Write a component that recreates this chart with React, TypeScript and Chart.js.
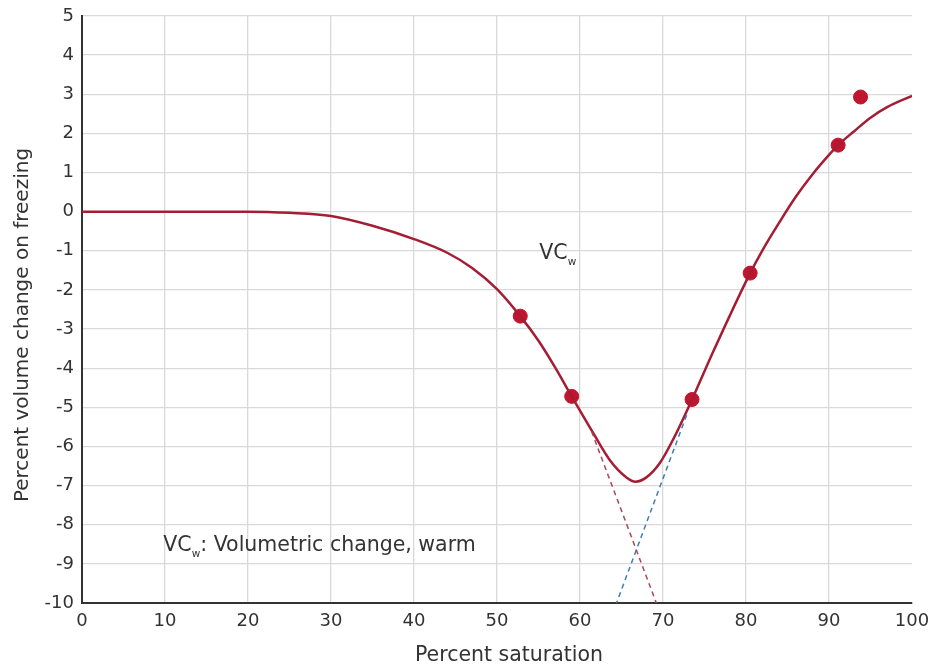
import React, { useEffect, useRef } from "react";
import { Chart, registerables } from "chart.js";

Chart.register(...registerables);

// Fitted curve (VCw)
const curveX = [0, 10, 20, 25, 30, 35, 40, 44, 47, 50, 52.8, 55, 57, 59, 61.6, 63.6, 65.6, 66.7, 68, 69.6, 71.2, 73.5, 76, 80.5, 82, 84, 86, 88, 90, 91.1, 93, 95, 97, 100];
const curveY = [0, 0, 0, -0.03, -0.11, -0.36, -0.7, -1.05, -1.44, -1.98, -2.67, -3.3, -3.98, -4.72, -5.66, -6.35, -6.79, -6.9, -6.79, -6.43, -5.83, -4.8, -3.6, -1.57, -0.98, -0.28, 0.38, 0.95, 1.45, 1.7, 2.05, 2.4, 2.67, 2.96];

// Measured points
const pointX = [52.8, 59, 73.5, 80.5, 91.1, 93.8];
const pointY = [-2.67, -4.72, -4.8, -1.57, 1.7, 2.93];

// Tangent (dashed) lines
const redDashX = [61.4, 69.2];
const redDashY = [-5.62, -10];
const blueDashX = [72.85, 64.4];
const blueDashY = [-5.2, -10];

const xTitle = "Percent saturation";
const yTitle = "Percent volume change on freezing";

const annotations = [
  { x: 55.1, y: -1.21, main: "VC", sub: "w", rest: "" },
  { x: 9.8, y: -8.66, main: "VC", sub: "w", rest: ": Volumetric change, warm" },
];

const FONT = "'DejaVu Sans', Verdana, sans-serif";

const toXY = (xs: number[], ys: number[]) => xs.map((x, i) => ({ x, y: ys[i] }));

export default function App() {
  const ref = useRef<HTMLCanvasElement | null>(null);
  useEffect(() => {
    if (!ref.current) return;
    const textPlugin = {
      id: "textAnno",
      afterDatasetsDraw(chart: any) {
        const { ctx, scales } = chart;
        ctx.save();
        ctx.fillStyle = "#333";
        ctx.textBaseline = "alphabetic";
        ctx.textAlign = "left";
        for (const a of annotations) {
          const px = scales.x.getPixelForValue(a.x);
          const py = scales.y.getPixelForValue(a.y);
          ctx.font = `20.5px ${FONT}`;
          ctx.fillText(a.main, px, py);
          let w = ctx.measureText(a.main).width;
          ctx.font = `10.5px ${FONT}`;
          ctx.fillText(a.sub, px + w, py + 6);
          w += ctx.measureText(a.sub).width;
          if (a.rest) {
            ctx.font = `20.5px ${FONT}`;
            ctx.fillText(a.rest, px + w, py);
          }
        }
        // axis titles
        ctx.font = `20.5px ${FONT}`;
        ctx.textAlign = "center";
        ctx.fillText(xTitle, 509, 661);
        ctx.translate(28, 325);
        ctx.rotate(-Math.PI / 2);
        ctx.font = `20px ${FONT}`;
        ctx.fillText(yTitle, 0, 0);
        ctx.restore();
      },
    };
    const chart = new Chart(ref.current, {
      type: "scatter",
      data: {
        datasets: [
          {
            type: "line",
            data: toXY(redDashX, redDashY),
            borderColor: "#a8475a",
            borderWidth: 1.5,
            borderDash: [5, 4],
            pointRadius: 0,
            fill: false,
          } as any,
          {
            type: "line",
            data: toXY(blueDashX, blueDashY),
            borderColor: "#3b7fb4",
            borderWidth: 1.5,
            borderDash: [5, 4],
            pointRadius: 0,
            fill: false,
          } as any,
          {
            type: "line",
            data: toXY(curveX, curveY),
            borderColor: "#a51d34",
            borderWidth: 2.5,
            pointRadius: 0,
            cubicInterpolationMode: "monotone",
            fill: false,
          } as any,
          {
            type: "scatter",
            data: toXY(pointX, pointY),
            backgroundColor: "#c0142f",
            borderColor: "#c0142f",
            pointRadius: 7,
          },
        ],
      },
      options: {
        animation: false,
        responsive: false,
        maintainAspectRatio: false,
        layout: { padding: { top: 16, right: 22, left: 0, bottom: 0 } },
        plugins: { legend: { display: false }, tooltip: { enabled: false } },
        scales: {
          x: {
            type: "linear",
            min: 0,
            max: 100,
            ticks: { stepSize: 10, color: "#333", font: { family: FONT, size: 18 }, padding: 8, maxRotation: 0 },
            grid: {
              color: (c: any) => (c.tick && c.tick.value === 100 ? "rgba(0,0,0,0)" : "#d9d9d9"),
              lineWidth: 1.3,
              drawTicks: false,
            },
            border: { display: true, color: "#333", width: 2 },
            afterFit: (s: any) => { s.height = 63; s.paddingLeft = 0; s.paddingRight = 0; },
          },
          y: {
            type: "linear",
            min: -10,
            max: 5,
            ticks: { stepSize: 1, color: "#333", font: { family: FONT, size: 18 }, padding: 8 },
            grid: { color: "#d9d9d9", lineWidth: 1.3, drawTicks: false },
            border: { display: true, color: "#333", width: 2 },
            afterFit: (s: any) => { s.width = 82; s.paddingTop = 0; s.paddingBottom = 0; },
          },
        },
      },
      plugins: [textPlugin],
    } as any);
    return () => chart.destroy();
  }, []);
  return (
    <div style={{ position: "fixed", left: 0, top: 0, width: 934, height: 666, background: "#fff" }}>
      <canvas ref={ref} width={934} height={666} style={{ width: 934, height: 666 }} />
    </div>
  );
}
